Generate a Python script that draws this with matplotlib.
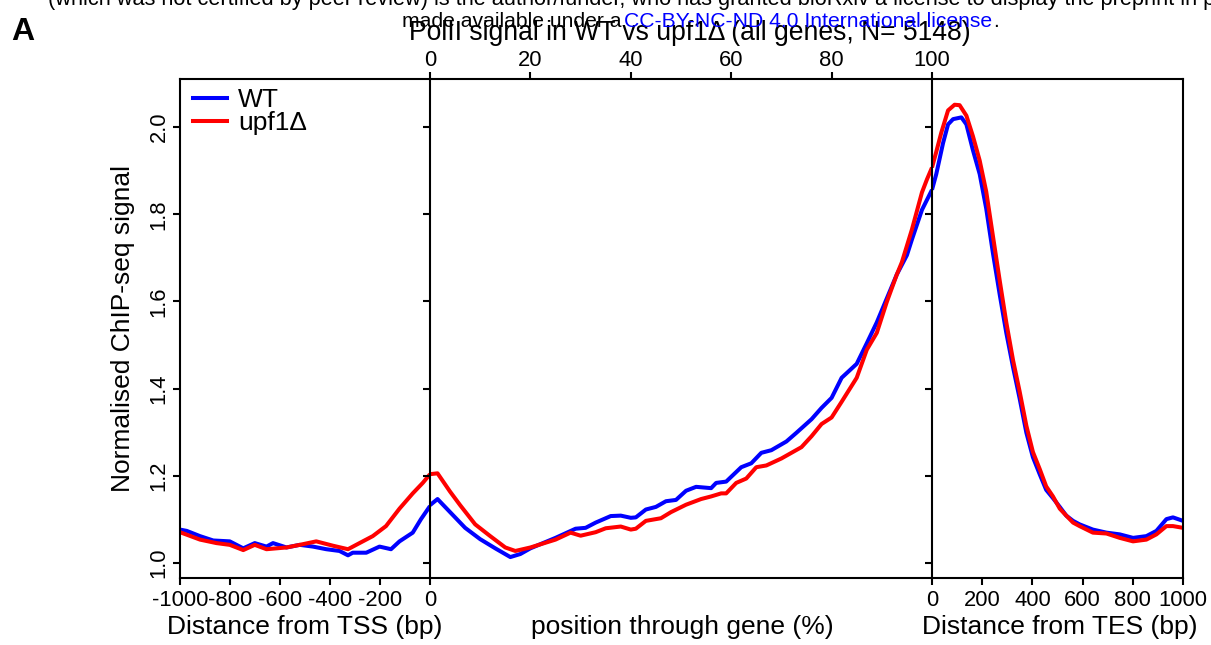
import matplotlib
matplotlib.use('Agg')
import matplotlib.pyplot as plt
from matplotlib import font_manager
from matplotlib.lines import Line2D

# ---------------- data ----------------
series_names = ['WT', 'upf1\u0394']
series_colors = ['#0000ff', '#ff0000']

# Left panel: distance from TSS (bp)
tss_pos_wt = [-1000, -973, -920, -867, -801, -747, -701, -654, -628, -574, -521, -468,
              -415, -362, -328, -309, -255, -202, -156, -122, -69, -36, 0]
tss_wt = [1.077, 1.074, 1.062, 1.052, 1.050, 1.034, 1.046, 1.038, 1.046, 1.036, 1.042, 1.038,
          1.032, 1.028, 1.018, 1.024, 1.024, 1.038, 1.032, 1.050, 1.070, 1.101, 1.131]
tss_pos_mut = [-1000, -920, -854, -801, -747, -701, -654, -574, -521, -455, -388, -328,
               -282, -229, -176, -122, -69, -29, 0]
tss_mut = [1.071, 1.054, 1.046, 1.042, 1.030, 1.042, 1.032, 1.036, 1.042, 1.050, 1.040, 1.032,
           1.046, 1.062, 1.085, 1.125, 1.160, 1.184, 1.204]

# Middle panel: position through gene (%)
gene_pos_wt = [0, 1.5, 5, 7, 10, 13, 16, 18, 20, 25, 29, 31, 33, 36, 38, 40, 41, 43, 45, 47,
               49, 51, 53, 56, 57, 59, 62, 64, 66, 68, 71, 73, 76, 78, 80, 82, 85, 87, 89,
               91, 93, 95, 96, 98, 100]
gene_wt = [1.133, 1.147, 1.105, 1.081, 1.055, 1.034, 1.014, 1.021, 1.034, 1.058, 1.079, 1.081,
           1.093, 1.108, 1.109, 1.104, 1.105, 1.123, 1.129, 1.142, 1.145, 1.166, 1.175, 1.172,
           1.184, 1.187, 1.220, 1.229, 1.253, 1.259, 1.279, 1.299, 1.330, 1.356, 1.379, 1.425,
           1.457, 1.504, 1.552, 1.607, 1.662, 1.706, 1.742, 1.810, 1.856]
gene_pos_mut = [0, 1.5, 4, 6, 9, 12, 15, 17, 20, 25, 28, 30, 33, 35, 38, 40, 41, 43, 46, 48,
                51, 54, 56, 58, 59, 61, 63, 65, 67, 70, 72, 74, 76, 78, 80, 82, 85, 87, 89,
                91, 93, 94, 96, 98, 99, 100]
gene_mut = [1.204, 1.206, 1.164, 1.133, 1.089, 1.062, 1.036, 1.028, 1.036, 1.054, 1.070, 1.063,
            1.071, 1.080, 1.084, 1.077, 1.079, 1.097, 1.103, 1.117, 1.134, 1.147, 1.153, 1.160,
            1.160, 1.184, 1.194, 1.220, 1.224, 1.240, 1.253, 1.266, 1.291, 1.319, 1.334, 1.370,
            1.425, 1.489, 1.528, 1.599, 1.662, 1.690, 1.765, 1.850, 1.880, 1.907]

# Right panel: distance from TES (bp)
tes_pos = [0, 17, 44, 64, 84, 117, 137, 163, 190, 216, 243, 270, 296, 323, 349, 376, 402,
           429, 455, 482, 509, 535, 562, 588, 641, 695, 748, 801, 854, 894, 934, 960, 1000]
tes_wt = [1.856, 1.892, 1.963, 2.006, 2.018, 2.022, 2.006, 1.947, 1.892, 1.813, 1.710, 1.615,
          1.528, 1.449, 1.378, 1.299, 1.243, 1.204, 1.168, 1.149, 1.129, 1.109, 1.097, 1.089,
          1.077, 1.070, 1.066, 1.058, 1.062, 1.074, 1.101, 1.105, 1.097]
tes_pos_mut = [0, 17, 37, 64, 90, 110, 137, 163, 190, 216, 243, 270, 296, 323, 349, 376, 402,
               429, 455, 482, 509, 535, 562, 588, 641, 695, 748, 801, 854, 894, 934, 960, 1000]
tes_mut = [1.907, 1.943, 1.987, 2.038, 2.051, 2.050, 2.026, 1.979, 1.923, 1.852, 1.749, 1.647,
           1.552, 1.465, 1.394, 1.315, 1.255, 1.216, 1.176, 1.153, 1.125, 1.109, 1.093, 1.085,
           1.070, 1.068, 1.058, 1.050, 1.054, 1.066, 1.085, 1.085, 1.081]

y_ticks = [1.0, 1.2, 1.4, 1.6, 1.8, 2.0]
y_ticklabels = ['1.0', '1.2', '1.4', '1.6', '1.8', '2.0']
tss_ticks = [-1000, -800, -600, -400, -200, 0]
gene_ticks = [0, 20, 40, 60, 80, 100]
tes_ticks = [0, 200, 400, 600, 800, 1000]

title = 'PolII signal in WT vs upf1\u0394 (all genes, N= 5148)'
ylabel = 'Normalised ChIP-seq signal'
xlabels = ['Distance from TSS (bp)', 'position through gene (%)', 'Distance from TES (bp)']
header1 = ('(which was not certified by peer review) is the author/funder, who has granted '
           'bioRxiv a license to display the preprint in perpetuity. It is')
header2a = 'made available under a'
header2b = 'CC-BY-NC-ND 4.0 International license'
header2c = '.'

# ---------------- style ----------------
fams = {f.name for f in font_manager.fontManager.ttflist}
narrow = 'Liberation Sans Narrow' if 'Liberation Sans Narrow' in fams else 'Liberation Sans'
plt.rcParams['font.family'] = ['Liberation Sans', 'DejaVu Sans']

W, H = 1211, 645
fig = plt.figure(figsize=(W / 100, H / 100), dpi=100)
y_top, y_bot = 79, 578


def box(x0, x1):
    return [x0 / W, 1 - y_bot / H, (x1 - x0) / W, (y_bot - y_top) / H]


ax1 = fig.add_axes(box(180, 430))
ax2 = fig.add_axes(box(430, 932))
ax3 = fig.add_axes(box(932, 1183))
ylim = (0.966, 2.11)
LW = 2.9
SLW = 1.5
TFS = 15.8
LFS = 19

panels = [
    (ax1, (tss_pos_wt, tss_wt), (tss_pos_mut, tss_mut), (-1000, 0)),
    (ax2, (gene_pos_wt, gene_wt), (gene_pos_mut, gene_mut), (0, 100)),
    (ax3, (tes_pos, tes_wt), (tes_pos_mut, tes_mut), (0, 1000)),
]
for ax, wt, mut, xl in panels:
    ax.plot(wt[0], wt[1], color=series_colors[0], lw=LW, solid_capstyle='butt')
    ax.plot(mut[0], mut[1], color=series_colors[1], lw=LW, solid_capstyle='butt')
    ax.set_xlim(*xl)
    ax.set_ylim(*ylim)
    ax.set_yticks(y_ticks)
    for s in ax.spines.values():
        s.set_linewidth(SLW)
    ax.tick_params(axis='both', direction='out', length=5, width=SLW, labelsize=TFS)
    ax.spines['right'].set_visible(False)

ax3.spines['right'].set_visible(True)

ax1.set_yticklabels(y_ticklabels, rotation=90, va='center')
ax1.tick_params(axis='y', pad=2.5)
ax2.set_yticklabels([])
ax3.set_yticklabels([])

ax1.set_xticks(tss_ticks)
ax1.set_xticklabels([str(t) for t in tss_ticks])
ax1.tick_params(axis='x', pad=4)
ax3.set_xticks(tes_ticks)
ax3.set_xticklabels([str(t) for t in tes_ticks])
ax3.tick_params(axis='x', pad=4)

ax2.set_xticks(gene_ticks)
ax2.set_xticklabels([str(t) for t in gene_ticks])
ax2.tick_params(axis='x', bottom=False, labelbottom=False, top=True, labeltop=True, pad=0.5)

label_y = (y_bot - 615) / (y_bot - y_top)
ax1.set_xlabel(xlabels[0], fontsize=LFS)
ax2.set_xlabel(xlabels[1], fontsize=LFS)
ax2.xaxis.set_label_position('bottom')
ax3.set_xlabel(xlabels[2], fontsize=LFS)
ax1.xaxis.set_label_coords(0.5, label_y)
ax2.xaxis.set_label_coords(0.502, label_y)
ax3.xaxis.set_label_coords(0.51, label_y)

ax1.set_ylabel(ylabel, fontsize=LFS)
ax1.yaxis.set_label_coords((135 - 180) / 250, 0.5)

handles = [Line2D([], [], color=c, lw=LW) for c in series_colors]
ax1.legend(handles, series_names, loc='upper left',
           bbox_to_anchor=((193 - 180) / 250, (y_bot - 88) / (y_bot - y_top)),
           frameon=False, fontsize=LFS, handlelength=1.29, handletextpad=0.42,
           labelspacing=-0.03, borderaxespad=0, borderpad=0)

fig.text(690 / W, 1 - 40 / H, title, fontsize=19.1, ha='center', va='baseline')
fig.text(11 / W, 1 - 40 / H, 'A', fontsize=23, fontweight='bold', ha='left', va='baseline')

hfam = [narrow, 'Liberation Sans']
fig.text(48 / W, 1 - 5 / H, header1, fontsize=15.7, family=hfam, ha='left', va='baseline')
fig.text(402 / W, 1 - 27 / H, header2a, fontsize=15.2, family=hfam, ha='left', va='baseline')
t_link = fig.text(624 / W, 1 - 27 / H, header2b, fontsize=15.2, family=hfam,
                  ha='left', va='baseline', color='#0000ff')
fig.canvas.draw()
bb = t_link.get_window_extent(renderer=fig.canvas.get_renderer())
fig.text(bb.x1 / W + 1 / W, 1 - 27 / H, header2c, fontsize=15.2, family=hfam,
         ha='left', va='baseline')

fig.savefig('out.png', dpi=100)
